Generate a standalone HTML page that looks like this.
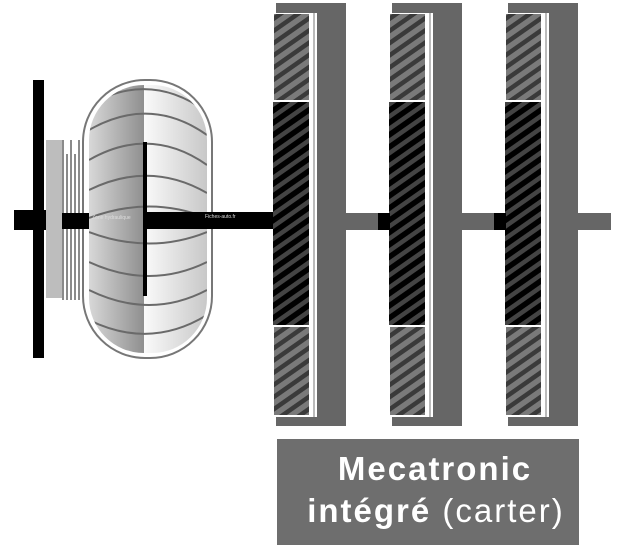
<!DOCTYPE html>
<html><head><meta charset="utf-8"><style>
html,body{margin:0;padding:0;background:#fff;width:640px;height:547px;overflow:hidden}
svg{display:block}
</style></head><body>
<svg width="640" height="547" viewBox="0 0 640 547" xmlns="http://www.w3.org/2000/svg">
<defs>
<pattern id="hl" width="10" height="10" patternUnits="userSpaceOnUse" patternTransform="rotate(-35)">
<rect width="10" height="10" fill="#7a7a7a"/><rect width="10" height="4.5" fill="#3a3a3a"/></pattern>
<pattern id="hd" width="10" height="10" patternUnits="userSpaceOnUse" patternTransform="rotate(-35)">
<rect width="10" height="10" fill="#000"/><rect width="10" height="4.5" fill="#444"/></pattern>
<linearGradient id="gl" x1="0" x2="1"><stop offset="0" stop-color="#d8d8d8"/><stop offset="1" stop-color="#8f8f8f"/></linearGradient>
<linearGradient id="gr" x1="0" x2="1"><stop offset="0" stop-color="#fafafa"/><stop offset="1" stop-color="#c8c8c8"/></linearGradient>
<clipPath id="tc"><rect x="89" y="85" width="118" height="268" rx="55"/></clipPath>
</defs>
<rect x="14" y="210" width="50" height="20" fill="#000"/>
<rect x="33" y="80" width="11" height="278" fill="#000"/>
<rect x="46" y="140" width="18" height="158" fill="#bdbdbd"/>
<g fill="#8a8a8a"><rect x="62" y="140" width="2" height="160"/><rect x="66" y="154" width="2" height="146"/><rect x="70" y="140" width="2" height="160"/><rect x="74" y="154" width="2" height="146"/><rect x="78" y="140" width="2" height="160"/></g>
<rect x="83" y="80" width="129" height="278" rx="62" fill="#fff" stroke="#777" stroke-width="2"/>
<g clip-path="url(#tc)">
<rect x="89" y="85" width="55" height="268" fill="url(#gl)"/>
<rect x="144" y="85" width="63" height="268" fill="url(#gr)"/>
<g fill="none" stroke="#6a6a6a" stroke-width="2">
<path d="M89 130 Q150 95 207 135"/><path d="M89 160 Q150 125 207 165"/><path d="M89 190 Q150 160 207 193"/>
<path d="M89 218 Q150 195 207 218"/><path d="M89 232 Q150 255 207 232"/><path d="M89 262 Q150 290 207 262"/>
<path d="M89 290 Q150 320 207 290"/><path d="M89 320 Q150 350 207 315"/><path d="M89 105 Q150 70 207 112"/>
</g>
</g>
<rect x="143" y="142" width="4" height="154" fill="#000"/>
<rect x="62" y="213" width="27" height="16" fill="#000"/>
<rect x="144" y="212" width="132" height="17" fill="#000"/>
<text x="92" y="219" font-family="Liberation Sans,sans-serif" font-size="5" fill="#ddd">Zone hydraulique</text>
<text x="205" y="218" font-family="Liberation Sans,sans-serif" font-size="5" fill="#ddd">Fiches-auto.fr</text>
<g id="gs">
<rect x="276" y="3" width="70" height="10" fill="#666"/>
<rect x="276" y="417" width="70" height="9" fill="#666"/>
<rect x="317" y="3" width="29" height="423" fill="#666"/>
<rect x="313" y="13" width="2" height="404" fill="#bbb"/>
<rect x="274" y="14" width="35" height="86" fill="url(#hl)"/>
<rect x="273" y="102" width="36" height="223" fill="url(#hd)"/>
<rect x="274" y="327" width="35" height="88" fill="url(#hl)"/>
</g>
<use href="#gs" x="116"/>
<use href="#gs" x="232"/>
<rect x="346" y="213" width="33" height="17" fill="#666"/>
<rect x="378" y="213" width="12" height="17" fill="#000"/>
<rect x="462" y="213" width="33" height="17" fill="#666"/>
<rect x="494" y="213" width="12" height="17" fill="#000"/>
<rect x="578" y="213" width="33" height="17" fill="#666"/>
<rect x="277" y="439" width="302" height="106" fill="#6e6e6e"/>
<text x="435" y="480" text-anchor="middle" font-family="Liberation Sans,sans-serif" font-size="33" font-weight="bold" letter-spacing="2" fill="#fff">Mecatronic</text>
<text x="436" y="522" text-anchor="middle" font-family="Liberation Sans,sans-serif" font-size="33" letter-spacing="2" fill="#fff"><tspan font-weight="bold">intégré</tspan> (carter)</text>
</svg>
</body></html>
